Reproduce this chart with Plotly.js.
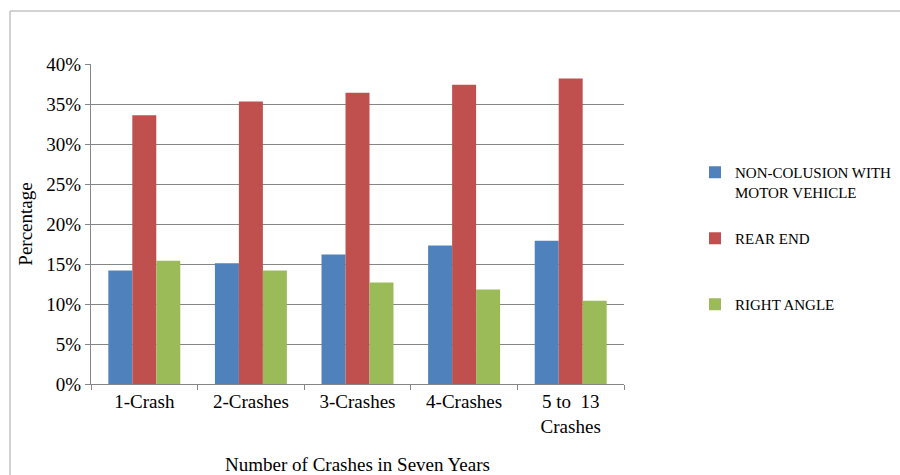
<!DOCTYPE html>
<html>
<head>
<meta charset="utf-8">
<script src="https://cdn.plot.ly/plotly-3.0.1.min.js"></script>
<style>html,body{margin:0;padding:0;background:#fff;}#chart{width:900px;height:475px;}</style>
</head>
<body>
<div id="chart"></div>
<script>
const categories = ["1-Crash", "2-Crashes", "3-Crashes", "4-Crashes", "5 to \u00a013<br>Crashes"];
const seriesNames = ["NON-COLUSION WITH<br>MOTOR VEHICLE", "REAR END", "RIGHT ANGLE"];
const nonCollision = [0.142, 0.151, 0.162, 0.173, 0.179];
const rearEnd = [0.336, 0.353, 0.364, 0.374, 0.382];
const rightAngle = [0.154, 0.142, 0.127, 0.118, 0.104];
const yTickVals = [0, 0.05, 0.10, 0.15, 0.20, 0.25, 0.30, 0.35, 0.40];
const yTickText = ["0%", "5%", "10%", "15%", "20%", "25%", "30%", "35%", "40%"];

const colors = ["#4F81BD", "#C0504D", "#9BBB59"];
const values = [nonCollision, rearEnd, rightAngle];
const legendIds = ["legend", "legend2", "legend3"];
const legendTops = [0.6716, 0.5326, 0.3937];

const data = values.map((v, i) => ({
  type: "bar",
  x: categories,
  y: v,
  name: seriesNames[i],
  legend: legendIds[i],
  marker: {color: colors[i]},
  hoverinfo: "none"
}));

const serif = "'Liberation Serif', 'Times New Roman', serif";
const frameColor = "#c3c3c3";

function legendCfg(top) {
  return {
    xref: "container", yref: "container",
    x: 0.7722, xanchor: "left",
    y: top, yanchor: "top",
    font: {family: serif, size: 15, color: "#000"},
    itemwidth: 30,
    valign: "top",
    bgcolor: "rgba(0,0,0,0)"
  };
}

const layout = {
  width: 900,
  height: 475,
  margin: {l: 91, r: 276, t: 64, b: 91},
  paper_bgcolor: "#ffffff",
  plot_bgcolor: "#ffffff",
  font: {family: serif, color: "#000000", size: 19},
  barmode: "group",
  bargap: 0.325,
  bargroupgap: 0,
  showlegend: true,
  legend: legendCfg(legendTops[0]),
  legend2: legendCfg(legendTops[1]),
  legend3: legendCfg(legendTops[2]),
  xaxis: {
    type: "category",
    showline: true,
    linecolor: "#868686",
    linewidth: 1,
    ticks: "outside",
    tickson: "boundaries",
    ticklen: 5,
    tickcolor: "#868686",
    showgrid: false,
    tickfont: {family: serif, size: 19},
    title: {text: "Number of Crashes in Seven Years", font: {family: serif, size: 19}, standoff: 22}
  },
  yaxis: {
    range: [0, 0.40],
    tickvals: yTickVals,
    ticktext: yTickText,
    showline: true,
    linecolor: "#868686",
    linewidth: 1,
    ticks: "outside",
    ticklen: 5,
    tickcolor: "#868686",
    showgrid: true,
    gridcolor: "#868686",
    gridwidth: 1,
    zeroline: false,
    tickfont: {family: serif, size: 19},
    title: {text: "Percentage", font: {family: serif, size: 19}, standoff: 8}
  },
  shapes: [
    {type: "line", xref: "paper", yref: "paper", x0: -0.152, x1: 1.7, y0: 1.1656, y1: 1.1656, line: {color: frameColor, width: 1.5}},
    {type: "line", xref: "paper", yref: "paper", x0: -0.152, x1: -0.152, y0: 1.1656, y1: -0.35, line: {color: frameColor, width: 1.5}}
  ]
};

Plotly.newPlot("chart", data, layout, {displayModeBar: false, staticPlot: true});
</script>
</body>
</html>
